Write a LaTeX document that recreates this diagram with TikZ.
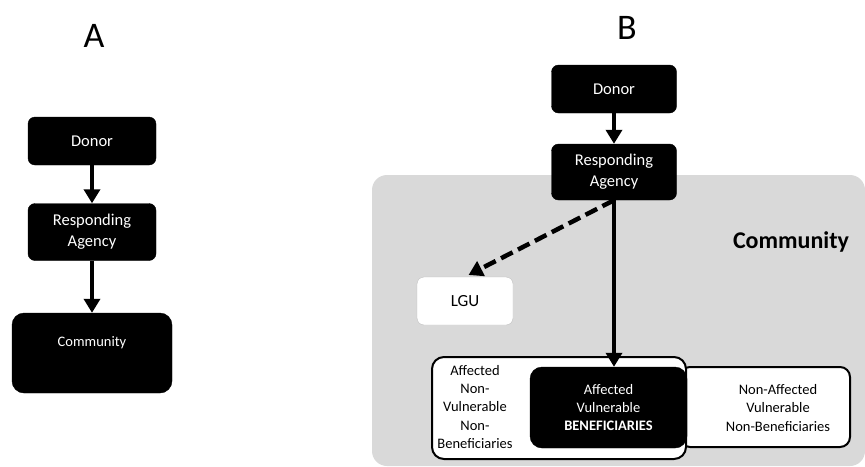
\documentclass[tikz,border=0pt]{standalone}
\usepackage{fontspec}
\setmainfont{Carlito}
\usetikzlibrary{arrows.meta, positioning}
\definecolor{commgray}{RGB}{217,217,217}
\definecolor{lguedge}{RGB}{191,191,191}

\begin{document}
\begin{tikzpicture}[
  x=1pt, y=-1pt,
  paneltitle/.style={font=\fontsize{36}{40}\selectfont},
  blackbox/.style={rectangle, draw=black, fill=black, rounded corners=7pt, text=white, align=center, inner sep=0pt, font=\fontsize{16.5}{21}\selectfont},
  whitebox/.style={rectangle, draw=black, fill=white, line width=2pt, rounded corners=12pt, inner sep=0pt},
  lgubox/.style={rectangle, draw=lguedge, fill=white, rounded corners=7pt, font=\fontsize{17}{20}\selectfont},
  region/.style={rectangle, fill=commgray, rounded corners=15pt, inner sep=0pt},
  smalltext/.style={align=center, inner sep=0pt, font=\fontsize{14.5}{18.3}\selectfont},
  flow/.style={-{Triangle[width=16pt,length=14pt]}, line width=4pt},
  dashflow/.style={flow, line width=4.5pt, dash pattern=on 13pt off 6pt}
]
  \useasboundingbox (0,0) rectangle (865,466);

  % panel A
  \node[paneltitle] (titleA) at (94,36) {A};
  \node[blackbox, minimum width=128pt, minimum height=48pt] (donorA) at (92,141) {Donor};
  \node[blackbox, minimum width=128pt, minimum height=57pt] (agencyA) at (92,232) {Responding\\Agency};
  \node[blackbox, rounded corners=12pt, minimum width=160pt, minimum height=80pt,
        font=\fontsize{14.5}{17}\selectfont, text depth=22pt] (commA) at (92,353) {Community};

  \draw[flow] (donorA) -- (agencyA);
  \draw[flow] (agencyA) -- (commA);

  % panel B
  \node[paneltitle] (titleB) at (627,28) {B};
  \node[region, minimum width=493pt, minimum height=291pt] (commB) at (618.5,320.5) {};
  \node[font=\fontsize{24}{28}\selectfont\bfseries] (commBlabel) at (791,242) {Community};

  \node[blackbox, minimum width=125pt, minimum height=48pt] (donorB) at (614,89) {Donor};
  \node[blackbox, minimum width=125pt, minimum height=56pt] (agencyB) at (614,172) {Responding\\Agency};

  \node[lgubox, minimum width=96pt, minimum height=48pt] (lgu) at (465,301) {LGU};

  \node[whitebox, rounded corners=10pt, minimum width=170pt, minimum height=80pt] (nonaff) at (765,407) {};
  \node[smalltext] (nonaffTxt) at (778,408) {Non-Affected\\Vulnerable\\Non-Beneficiaries};
  \node[whitebox, minimum width=254pt, minimum height=102pt] (affected) at (559,408) {};
  \node[smalltext] (affectedTxt) at (475,407) {Affected\\Non-\\Vulnerable\\Non-\\Beneficiaries};
  \node[blackbox, rounded corners=12pt, minimum width=157pt, minimum height=81pt,
        font=\fontsize{14.5}{18.3}\selectfont] (benef) at (608.5,407.5) {Affected\\Vulnerable\\\textbf{BENEFICIARIES}};

  \draw[flow] (donorB) -- (agencyB);
  \draw[flow] (agencyB.south) -- (agencyB.south |- benef.north);
  \draw[dashflow, shorten >=4pt] (agencyB.south) -- (lgu.north);
\end{tikzpicture}
\end{document}
